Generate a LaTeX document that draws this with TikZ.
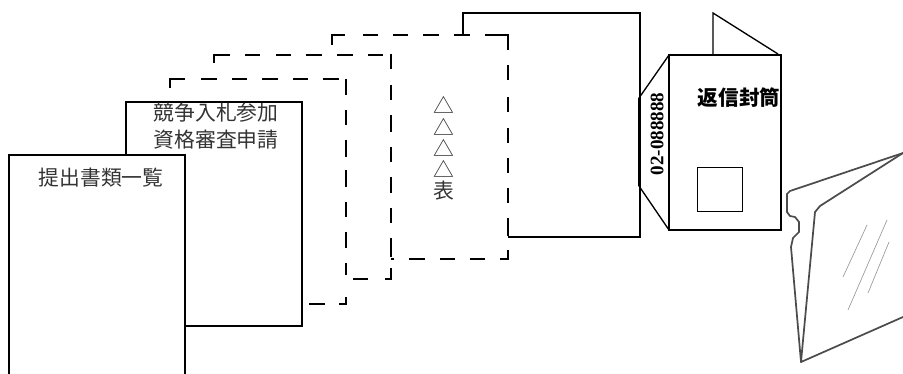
\documentclass[tikz,border=0pt]{standalone}
\usepackage{fontspec}
\newfontfamily\cjk{Noto Sans CJK JP}
\tikzset{
  solidline/.style={draw=black,line width=1.5pt,line cap=butt,line join=miter},
  dashline/.style={draw=black,line width=1.5pt,line cap=butt,line join=miter},
  thinline/.style={draw=black,line width=1pt},
  hairline/.style={draw=black,line width=0.6pt},
  folderline/.style={draw=black!70,line width=1.3pt,line join=round,line cap=round},
  glassline/.style={draw=black!40,line width=0.5pt},
  doclabel/.style={font=\cjk\fontsize{15.6pt}{15.6pt}\selectfont,text=black!80,inner sep=0pt,anchor=center},
  stamplabel/.style={font=\cjk\bfseries\fontsize{15.4pt}{15.4pt}\selectfont,inner sep=0pt,anchor=center},
}
\begin{document}
\begin{tikzpicture}[x=0.75pt,y=-0.75pt]
\useasboundingbox (0,0) rectangle (903,374);
% back solid sheet
\draw[solidline] (463,35)--(463,13)--(640,13)--(640,237)--(508,237);
% sheet 5 dashed
\draw[dashline] (332,45)--(332,35)--(345,35) (363,35)--(378,35) (393,35)--(408,35) (423,35)--(439,35) (454,35)--(470,35) (485,35)--(508,35)--(508,50)
 (508,65)--(508,80) (508,97)--(508,112) (508,128)--(508,143) (508,158)--(508,173) (508,188)--(508,203) (508,218)--(508,236)
 (508,250)--(508,259)--(500,259) (485,259)--(470,259) (455,259)--(440,259) (425,259)--(409,259) (394,259)--(391,259);
% sheet 4 dashed
\draw[dashline] (214,63)--(214,55)--(230,55) (245,55)--(260,55) (276,55)--(291,55) (306,55)--(322,55) (337,55)--(353,55) (368,55)--(383,55)
 (391,54)--(391,69) (391,85)--(391,100) (391,115)--(391,132) (391,147)--(391,162) (391,177)--(391,193) (391,208)--(391,223) (391,238)--(391,257)
 (391,268)--(391,279)--(385,279) (368,279)--(353,279);
% sheet 3 dashed
\draw[dashline] (170,88)--(170,79)--(185,79) (201,79)--(217,79) (232,79)--(247,79) (262,79)--(278,79) (293,79)--(308,79) (323,79)--(339,79)
 (346,79)--(346,95) (346,110)--(346,125) (346,140)--(346,157) (346,170)--(346,187) (346,202)--(346,217) (346,232)--(346,248) (346,263)--(346,275)
 (346,297)--(346,304)--(339,304) (325,304)--(309,304);
% solid sheets
\draw[solidline] (126,155)--(126,102)--(302,102)--(302,326)--(185,326);
\draw[solidline] (9,374)--(9,155)--(185,155)--(185,374);
\node[doclabel] (t1) at (216,113) {競争入札参加};
\node[doclabel] (t2) at (216,140) {資格審査申請};
\node[doclabel] (t3) at (101,178) {提出書類一覧};
\node[doclabel] (a1) at (444,105) {△};
\node[doclabel] (a2) at (444,127) {△};
\node[doclabel] (a3) at (444,148) {△};
\node[doclabel] (a4) at (444,169) {△};
\node[doclabel] (a5) at (444,191) {表};
% envelope
\draw[thinline] (713,54)--(713,13)--(778,54);
\draw[thinline] (669,55)--(639,98) (639,186)--(669,230);
\draw[solidline] (639,98)--(639,186);
\node[stamplabel] (env) at (739,98) {返信封筒};
\draw[solidline] (669,55) rectangle (781,230);
\draw[hairline] (697,167) rectangle (742,211);
\node[font=\fontspec{Liberation Serif Bold}\fontsize{14.3pt}{14.3pt}\selectfont,rotate=90,inner sep=0pt] (num) at (657,134) {02-088888};
% folder
\draw[folderline] (903,153)--(820,206)--(815,212)--(801,362)--(903,317);
\draw[folderline] (903,153)--(790,191)--(787,194)--(787,212)--(790,216)--(795,217)--(799,222)--(799,232)--(793,238)--(791,247)--(801,362);
\draw[glassline] (843,277)--(867,225);
\draw[glassline] (848,310)--(887,220);
\draw[glassline] (868,293)--(889,242);
\end{tikzpicture}
\end{document}
